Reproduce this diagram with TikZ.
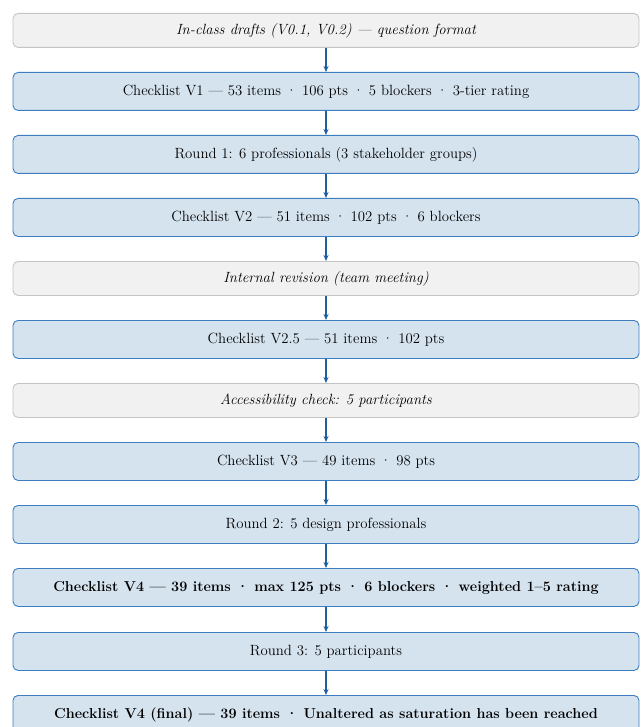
\documentclass[tikz,border=0pt]{standalone}
\usepackage{fontspec}
\usetikzlibrary{arrows.meta}
\definecolor{bluefill}{HTML}{D5E3EF}
\definecolor{blueline}{HTML}{3E7DBF}
\definecolor{grayfill}{HTML}{F1F1F1}
\definecolor{grayline}{HTML}{C4C4C4}
\definecolor{arrowcol}{HTML}{1F5E9E}
\newcommand{\txtsize}{\fontsize{14.8}{17}\selectfont}
\newcommand{\boldsize}{\fontsize{14.4}{17}\selectfont}
\begin{document}
\begin{tikzpicture}[x=1pt,y=1pt,
  base/.style={rectangle, rounded corners=5pt, anchor=north, minimum width=626pt, line width=0.9pt, inner sep=0pt, font=\txtsize},
  bluebox/.style={base, fill=bluefill, draw=blueline, minimum height=38pt},
  graybox/.style={base, fill=grayfill, draw=grayline, minimum height=34pt, font=\txtsize\itshape},
  boldbox/.style={bluebox, font=\boldsize\bfseries},
  arr/.style={draw=arrowcol, line width=1.6pt, -{Stealth[length=6pt,width=5pt]}}
]
\useasboundingbox (0,0) rectangle (641,-727);
\node[graybox] (b1) at (326,-13) {In-class drafts (V0.1, V0.2) — question format};
\node[bluebox] (b2) at (326,-72) {Checklist V1 — 53 items · 106 pts · 5 blockers · 3-tier rating};
\node[bluebox] (b3) at (326,-135) {Round 1: 6 professionals (3 stakeholder groups)};
\node[bluebox] (b4) at (326,-198) {Checklist V2 — 51 items · 102 pts · 6 blockers};
\node[graybox] (b5) at (326,-261) {Internal revision (team meeting)};
\node[bluebox] (b6) at (326,-320) {Checklist V2.5 — 51 items · 102 pts};
\node[graybox] (b7) at (326,-383) {Accessibility check: 5 participants};
\node[bluebox] (b8) at (326,-442) {Checklist V3 — 49 items · 98 pts};
\node[bluebox] (b9) at (326,-505) {Round 2: 5 design professionals};
\node[boldbox] (b10) at (326,-568) {Checklist V4 — 39 items · max 125 pts · 6 blockers · weighted 1–5 rating};
\node[bluebox] (b11) at (326,-632) {Round 3: 5 participants};
\node[boldbox] (b12) at (326,-695) {Checklist V4 (final) — 39 items · Unaltered as saturation has been reached};
\foreach \a/\b in {b1/b2,b2/b3,b3/b4,b4/b5,b5/b6,b6/b7,b7/b8,b8/b9,b9/b10,b10/b11,b11/b12}
  \draw[arr] (\a.south) -- (\b.north);
\end{tikzpicture}
\end{document}
